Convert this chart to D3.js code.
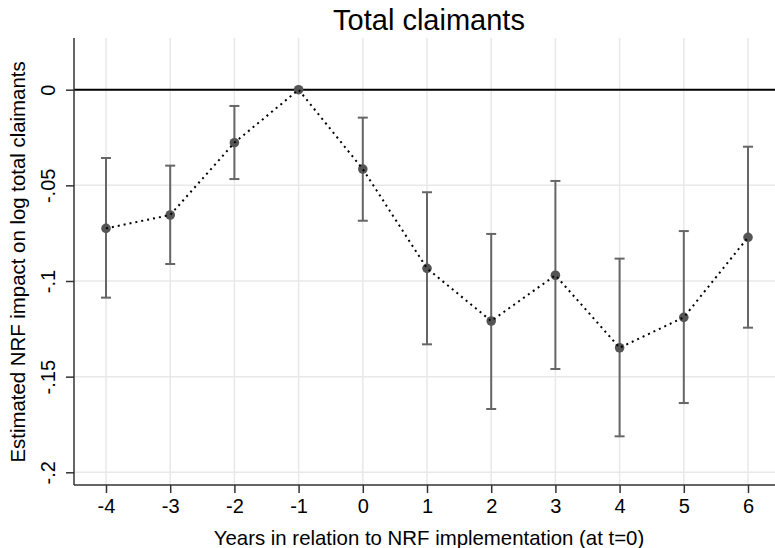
<!DOCTYPE html>
<html>
<head>
<meta charset="utf-8">
<script src="https://cdn.jsdelivr.net/npm/d3@7"></script>
<style>
  body { margin: 0; background: #fff; }
  text { font-family: Arial, "Liberation Sans", sans-serif; fill: #000; }
</style>
</head>
<body>
<div id="chart"><svg width="775" height="548"></svg></div>
<script>
// event-study estimates
const years = [-4, -3, -2, -1, 0, 1, 2, 3, 4, 5, 6];
const estimates = [-0.0725, -0.0655, -0.0277, 0, -0.0415, -0.0934, -0.1209, -0.0970, -0.1349, -0.1190, -0.0772];
const ciUpper = [-0.0357, -0.0397, -0.0085, null, -0.0146, -0.0536, -0.0754, -0.0477, -0.0883, -0.0739, -0.0298];
const ciLower = [-0.1087, -0.0911, -0.0467, null, -0.0685, -0.1331, -0.1669, -0.1460, -0.1812, -0.1638, -0.1244];
const yTicks = [0, -0.05, -0.1, -0.15, -0.2];
const yTickLabels = ["0", "-.05", "-.1", "-.15", "-.2"];

const data = years.map((t, i) => ({ t: t, b: estimates[i], hi: ciUpper[i], lo: ciLower[i] }));

const svg = d3.select("#chart svg");
const width = +svg.attr("width");
const height = +svg.attr("height");

const plot = { left: 74, right: 775, top: 38, bottom: 485 };

const xScale = d3.scaleLinear().domain([-4, 6]).range([106, 748]);
const yScale = d3.scaleLinear().domain([0, -0.2]).range([89.7, 472.3]);

// grid
svg.append("g")
    .selectAll("line.vg")
    .data(years)
    .enter()
    .append("line")
    .attr("x1", d => xScale(d)).attr("x2", d => xScale(d))
    .attr("y1", plot.top).attr("y2", plot.bottom)
    .attr("stroke", "#e8e8e8").attr("stroke-width", 1.5);

svg.append("g")
    .selectAll("line.hg")
    .data(yTicks)
    .enter()
    .append("line")
    .attr("x1", plot.left).attr("x2", plot.right)
    .attr("y1", d => yScale(d)).attr("y2", d => yScale(d))
    .attr("stroke", "#e8e8e8").attr("stroke-width", 1.5);

// zero line
svg.append("line")
    .attr("x1", plot.left).attr("x2", plot.right)
    .attr("y1", yScale(0)).attr("y2", yScale(0))
    .attr("stroke", "#000").attr("stroke-width", 2);

// axes
const xAxis = d3.axisBottom(xScale).tickValues(years).tickSize(8).tickPadding(6)
    .tickFormat(d => String(d));
const gx = svg.append("g")
    .attr("transform", `translate(0,${plot.bottom})`)
    .call(xAxis);
gx.select(".domain").attr("d", `M${plot.left},0H${plot.right}`).attr("stroke", "#333").attr("stroke-width", 1.5);
gx.selectAll(".tick line").attr("stroke", "#333").attr("stroke-width", 1.5);
gx.selectAll("text").style("font-size", "20px").attr("fill", "#000");

const yAxis = d3.axisLeft(yScale).tickValues(yTicks).tickSize(8)
    .tickFormat((d, i) => yTickLabels[i]);
const gy = svg.append("g")
    .attr("transform", `translate(${plot.left},0)`)
    .call(yAxis);
gy.select(".domain").attr("d", `M0,${plot.top}V${plot.bottom}`).attr("stroke", "#333").attr("stroke-width", 1.5);
gy.selectAll(".tick line").attr("stroke", "#333").attr("stroke-width", 1.5);
gy.selectAll("text")
    .style("font-size", "20px")
    .attr("fill", "#000")
    .attr("x", null).attr("dy", null)
    .attr("text-anchor", "middle")
    .attr("transform", "translate(-19,0) rotate(-90)")
    .attr("y", 0);

// error bars
const ci = data.filter(d => d.hi !== null);
const eb = svg.append("g").attr("stroke", "#666").attr("stroke-width", 2);
eb.selectAll("line.bar")
    .data(ci).enter().append("line")
    .attr("x1", d => xScale(d.t)).attr("x2", d => xScale(d.t))
    .attr("y1", d => yScale(d.hi)).attr("y2", d => yScale(d.lo));
eb.selectAll("line.capt")
    .data(ci).enter().append("line")
    .attr("x1", d => xScale(d.t) - 5).attr("x2", d => xScale(d.t) + 5)
    .attr("y1", d => yScale(d.hi)).attr("y2", d => yScale(d.hi));
eb.selectAll("line.capb")
    .data(ci).enter().append("line")
    .attr("x1", d => xScale(d.t) - 5).attr("x2", d => xScale(d.t) + 5)
    .attr("y1", d => yScale(d.lo)).attr("y2", d => yScale(d.lo));

// points
svg.selectAll("circle")
    .data(data).enter().append("circle")
    .attr("cx", d => xScale(d.t))
    .attr("cy", d => yScale(d.b))
    .attr("r", 4.8)
    .attr("fill", "#555");

// dotted connecting line
const line = d3.line().x(d => xScale(d.t)).y(d => yScale(d.b));
svg.append("path")
    .datum(data)
    .attr("d", line)
    .attr("fill", "none")
    .attr("stroke", "#000")
    .attr("stroke-width", 2)
    .attr("stroke-dasharray", "2,4");

// titles
svg.append("text")
    .attr("x", 429).attr("y", 29.5)
    .attr("text-anchor", "middle")
    .style("font-size", "29px")
    .text("Total claimants");

svg.append("text")
    .attr("x", 429).attr("y", 545)
    .attr("text-anchor", "middle")
    .style("font-size", "20.4px")
    .text("Years in relation to NRF implementation (at t=0)");

svg.append("text")
    .attr("transform", "translate(25,262) rotate(-90)")
    .attr("text-anchor", "middle")
    .style("font-size", "20.4px")
    .text("Estimated NRF impact on log total claimants");
</script>
</body>
</html>
